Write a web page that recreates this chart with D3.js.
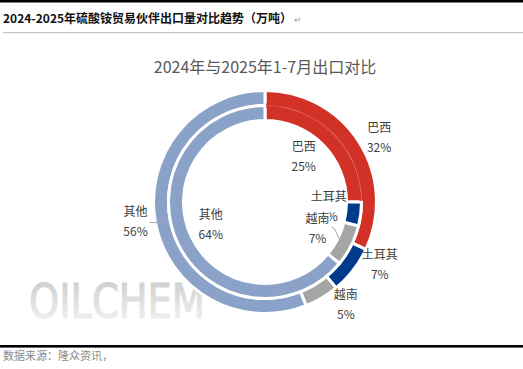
<!DOCTYPE html>
<html>
<head>
<meta charset="utf-8">
<script src="https://cdn.jsdelivr.net/npm/d3@7"></script>
<style>
  html, body { margin: 0; padding: 0; background: #fff; }
  svg { display: block; }
</style>
</head>
<body>
<svg id="chart" width="523" height="369"></svg>
<script>
// ---- data ----
const headerTitle = "2024-2025年硫酸铵贸易伙伴出口量对比趋势（万吨）";
const chartTitle = "2024年与2025年1-7月出口对比";
const sourceText = "数据来源：隆众资讯，";
const categories = ["巴西", "土耳其", "越南", "其他"];
const share2024 = [25, 4, 7, 64];   // inner ring (%)
const share2025 = [32, 7, 5, 56];   // outer ring (%)
const colors = ["#D23226", "#003A8A", "#A5A5A5", "#8AA2C8"];

// ---- layout ----
const W = 523, H = 369;
const cx = 265, cy = 202;
const svg = d3.select("#chart");
const font = "'Noto Sans CJK SC', 'Noto Sans', sans-serif";

// header
svg.append("rect").attr("x", 0).attr("y", 0).attr("width", W).attr("height", 2.5).attr("fill", "#000");
svg.append("text").attr("x", 3).attr("y", 22.5)
  .attr("font-family", font).attr("font-size", 12).attr("font-weight", "bold")
  .attr("fill", "#111").text(headerTitle);
svg.append("text").attr("x", 294).attr("y", 22.5)
  .attr("font-family", font).attr("font-size", 9).attr("fill", "#999").text("↵");
svg.append("rect").attr("x", 3).attr("y", 32).attr("width", W - 3).attr("height", 1.2).attr("fill", "#C4C4C4");

// footer
svg.append("rect").attr("x", 0).attr("y", 345).attr("width", W).attr("height", 2.6).attr("fill", "#000");
svg.append("text").attr("x", 3).attr("y", 359.5)
  .attr("font-family", font).attr("font-size", 11).attr("fill", "#8a8a8a").text(sourceText);

// watermark
const defs = svg.append("defs");
const grad = defs.append("linearGradient").attr("id", "wm").attr("x1", 0).attr("y1", 0).attr("x2", 0).attr("y2", 1);
grad.append("stop").attr("offset", "0%").attr("stop-color", "#C9C9C9");
grad.append("stop").attr("offset", "100%").attr("stop-color", "#F6F6F6");
svg.append("text").attr("x", 29).attr("y", 318)
  .attr("font-family", "'DejaVu Sans', sans-serif").attr("font-size", 48)
  .attr("textLength", 176).attr("lengthAdjust", "spacingAndGlyphs")
  .attr("fill", "url(#wm)").attr("stroke", "url(#wm)").attr("stroke-width", 1.2)
  .text("OILCHEM");

// chart title
svg.append("text").attr("x", cx).attr("y", 73).attr("text-anchor", "middle")
  .attr("font-family", font).attr("font-size", 16).attr("fill", "#595959").text(chartTitle);

// donuts
const pie = d3.pie().sort(null).value(d => d);
const ringSplit = 96.5;
const outerArc = d3.arc().innerRadius(ringSplit).outerRadius(111.5);
const innerArc = d3.arc().innerRadius(81.5).outerRadius(ringSplit);
const g = svg.append("g").attr("transform", `translate(${cx},${cy})`);

const outerData = pie(share2025);
const innerData = pie(share2024);

g.selectAll("path.outer").data(outerData).enter().append("path")
  .attr("class", "outer").attr("d", outerArc)
  .attr("fill", (d, i) => colors[i]).attr("stroke", "#fff").attr("stroke-width", 3);
g.selectAll("path.inner").data(innerData).enter().append("path")
  .attr("class", "inner").attr("d", innerArc)
  .attr("fill", (d, i) => colors[i]).attr("stroke", "#fff").attr("stroke-width", 3);

// shared red band between rings where both rings are 巴西
const sharedEnd = Math.min(outerData[0].endAngle, innerData[0].endAngle);
g.append("path")
  .attr("d", d3.arc().innerRadius(ringSplit - 2.2).outerRadius(ringSplit + 2.2)
    .startAngle(innerData[0].startAngle + 0.013).endAngle(sharedEnd - 0.013)())
  .attr("fill", colors[0]);
g.append("path")
  .attr("d", d3.arc().innerRadius(ringSplit - 0.35).outerRadius(ringSplit + 0.35)
    .startAngle(innerData[0].startAngle + 0.02).endAngle(sharedEnd - 0.02)())
  .attr("fill", "#E27A71");

// label helpers
function polar(r, a) { return [r * Math.sin(a), -r * Math.cos(a)]; }
function mid(d) { return (d.startAngle + d.endAngle) / 2; }
const labelColor = "#404040";
const deg = Math.PI / 180;
const outerShift = [3 * deg, -9 * deg, -7.5 * deg, 2 * deg];
const innerShift = [-4 * deg, -3 * deg, 0, 2 * deg];
const innerLabelR = [59, 64, 59, 59];

function addLabel(parent, x, y, name, pct, bg) {
  const t = parent.append("g").attr("transform", `translate(${x},${y})`);
  const nameText = t.append("text").attr("y", -6).attr("text-anchor", "middle")
    .attr("font-family", font).attr("font-size", 12).attr("fill", labelColor)
    .text(name);
  if (bg) {
    const bb = nameText.node().getBBox();
    t.insert("rect", "text").attr("x", bb.x - 1).attr("y", bb.y + 1)
      .attr("width", bb.width + 1).attr("height", bb.height - 2).attr("fill", "#fff");
  }
  t.append("text").attr("y", 14).attr("text-anchor", "middle")
    .attr("font-family", font).attr("font-size", 12).attr("fill", labelColor)
    .text(pct + "%");
  return t;
}

// inner labels (越南 drawn last, on a white backing, as in the original)
[0, 1, 3, 2].forEach(i => {
  const d = innerData[i];
  const [x, y] = polar(innerLabelR[i], mid(d) + innerShift[i]);
  addLabel(g, x, y, categories[i], share2024[i], i === 2);
});

// leader for inner 越南
{
  const d = innerData[2];
  const [x, y] = polar(innerLabelR[2], mid(d) + innerShift[2]);
  const [ex, ey] = polar(84, mid(d));
  g.append("polyline").attr("points", `${x + 14},${y - 2} ${x + 17},${y} ${ex},${ey}`)
    .attr("fill", "none").attr("stroke", "#A6A6A6").attr("stroke-width", 1);
}

// outer labels
outerData.forEach((d, i) => {
  const [x, y] = polar(131, mid(d) + outerShift[i]);
  addLabel(g, x, y, categories[i], share2025[i], false);
});

// leader for outer 其他
{
  const d = outerData[3];
  const [x, y] = polar(131, mid(d) + outerShift[3]);
  g.append("line").attr("x1", x + 14).attr("y1", y + 0.5).attr("x2", x + 29).attr("y2", y + 0.5)
    .attr("stroke", "#A6A6A6").attr("stroke-width", 1);
}
</script>
</body>
</html>
